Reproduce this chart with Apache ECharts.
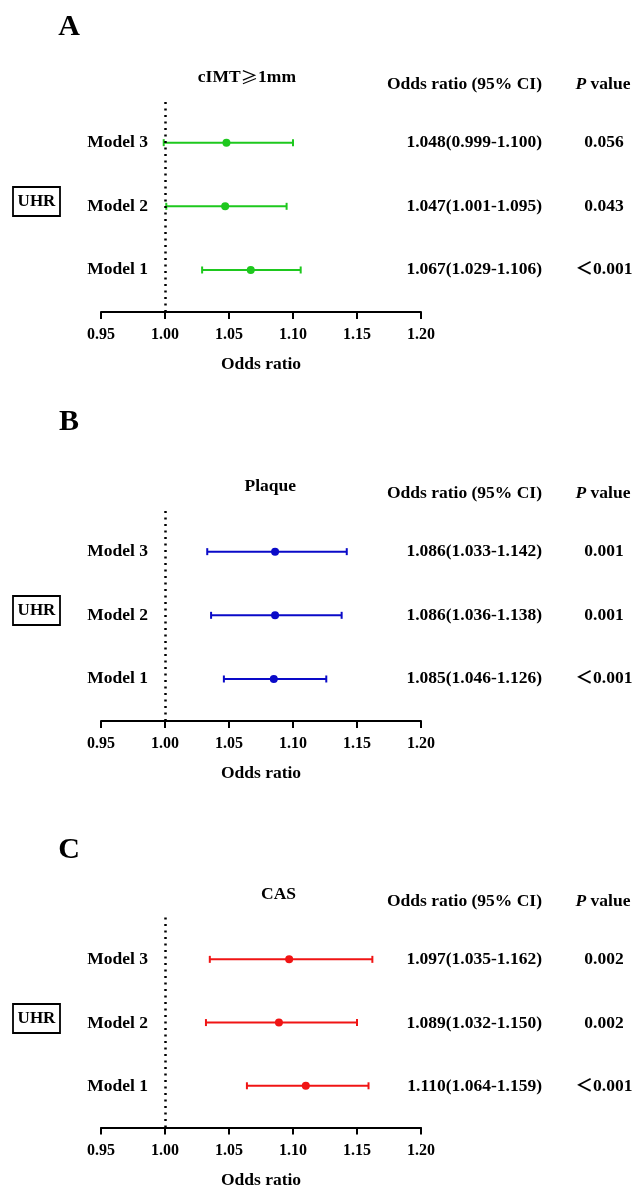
<!DOCTYPE html>
<html><head><meta charset="utf-8">
<script src="https://cdn.jsdelivr.net/npm/echarts@6/dist/echarts.min.js"></script>
<style>html,body{margin:0;padding:0;background:#fff}#c{width:634px;height:1190px}</style>
</head><body><div id="c"></div>
<script>
// ---------- data ----------
const panelLetters = ['A', 'B', 'C'];
const outcomes = ['cIMT≥1mm', 'Plaque', 'CAS'];
const models = ['Model 1', 'Model 2', 'Model 3'];          // bottom to top
const exposure = 'UHR';
const orHeader = 'Odds ratio (95% CI)';
const pHeader = 'P value';
const xAxisTitle = 'Odds ratio';
const xTickLabels = ['0.95', '1.00', '1.05', '1.10', '1.15', '1.20'];
const refValue = 1.00;

const orA = [1.067, 1.047, 1.048];
const loA = [1.029, 1.001, 0.999];
const hiA = [1.106, 1.095, 1.100];
const pA  = ['＜0.001', '0.043', '0.056'];

const orB = [1.085, 1.086, 1.086];
const loB = [1.046, 1.036, 1.033];
const hiB = [1.126, 1.138, 1.142];
const pB  = ['＜0.001', '0.001', '0.001'];

const orC = [1.110, 1.089, 1.097];
const loC = [1.064, 1.032, 1.035];
const hiC = [1.159, 1.150, 1.162];
const pC  = ['＜0.001', '0.002', '0.002'];

const colors = ['#1ec81e', '#0a0ac8', '#f01414'];

// ---------- layout ----------
const panels = [
  {or: orA, lo: loA, hi: hiA, p: pA},
  {or: orB, lo: loB, hi: hiB, p: pB},
  {or: orC, lo: loC, hi: hiC, p: pC}
];
const panelTop = [100, 509, 917];
const letterY = [27, 422, 850];
const gridH = 212;
const yMin = 0.34, yMax = 3.67;
const FONT = "'Liberation Serif', 'Times New Roman', 'Noto Sans CJK SC', serif";

const fmtCI = (o, l, h) => o.toFixed(3) + '(' + l.toFixed(3) + '-' + h.toFixed(3) + ')';
const tickLabel = v => xTickLabels.find(s => Math.abs(parseFloat(s) - v) < 1e-6) || '';

const grid = [], xAxis = [], yAxis = [], series = [], graphic = [];

panels.forEach((pd, k) => {
  const top = panelTop[k];
  const col = colors[k];
  const gi = grid.length;
  // main plot grid
  grid.push({left: 101, top: top, width: 320, height: gridH});
  xAxis.push({
    gridIndex: gi, type: 'value', min: 0.95, max: 1.20, interval: 0.05,
    name: xAxisTitle, nameLocation: 'middle', nameGap: 44,
    nameTextStyle: {fontFamily: FONT, fontWeight: 'bold', fontSize: 17.5, color: '#000'},
    axisLine: {show: true, lineStyle: {color: '#000', width: 2}},
    axisTick: {show: true, length: 7, lineStyle: {color: '#000', width: 2}},
    axisLabel: {margin: 15, fontFamily: FONT, fontWeight: 'bold', fontSize: 16, color: '#000', formatter: tickLabel},
    splitLine: {show: false}
  });
  yAxis.push({gridIndex: gi, type: 'value', min: yMin, max: yMax, show: false});
  const rows = models.map((m, i) => i + 1);
  series.push({
    type: 'custom', xAxisIndex: gi, yAxisIndex: gi, silent: true,
    encode: {x: [0, 1], y: 2},
    data: rows.map((r, i) => [pd.lo[i], pd.hi[i], r]),
    renderItem: (params, api) => {
      const a = api.coord([api.value(0), api.value(2)]);
      const b = api.coord([api.value(1), api.value(2)]);
      const h = 3.5, st = {stroke: col, lineWidth: 2};
      return {type: 'group', children: [
        {type: 'line', shape: {x1: a[0], y1: a[1], x2: b[0], y2: b[1]}, style: st},
        {type: 'line', shape: {x1: a[0], y1: a[1] - h, x2: a[0], y2: a[1] + h}, style: st},
        {type: 'line', shape: {x1: b[0], y1: b[1] - h, x2: b[0], y2: b[1] + h}, style: st}
      ]};
    },
    z: 3
  });
  series.push({
    type: 'scatter', xAxisIndex: gi, yAxisIndex: gi, silent: true,
    data: rows.map((r, i) => [pd.or[i], r]),
    symbolSize: 8, itemStyle: {color: col, opacity: 1}, z: 4,
    markLine: {
      silent: true, symbol: ['none', 'none'], label: {show: false},
      lineStyle: {color: '#000', type: [2, 4.5], width: 2.5},
      data: [{xAxis: refValue}]
    }
  });

  // text columns
  const textCols = [
    {left: 40, width: 108, x: 1, align: 'right', texts: models},
    {left: 385, width: 157, x: 1, align: 'right', texts: rows.map((r, i) => fmtCI(pd.or[i], pd.lo[i], pd.hi[i]))},
    {left: 574, width: 60, x: 0.5, align: 'center', texts: pd.p}
  ];
  textCols.forEach(tc => {
    const g = grid.length;
    grid.push({left: tc.left, top: top, width: tc.width, height: gridH});
    xAxis.push({gridIndex: g, type: 'value', min: 0, max: 1, show: false});
    yAxis.push({gridIndex: g, type: 'value', min: yMin, max: yMax, show: false});
    series.push({
      type: 'custom', xAxisIndex: g, yAxisIndex: g, silent: true,
      encode: {x: 0, y: 1},
      data: rows.map((r, i) => [tc.x, r, i]),
      renderItem: (params, api) => {
        const p = api.coord([api.value(0), api.value(1)]);
        return {type: 'text', x: p[0], y: p[1], style: {
          text: tc.texts[api.value(2)], fill: '#000',
          font: "bold 17.5px " + FONT, align: tc.align, verticalAlign: 'middle'}};
      }
    });
  });

  // annotations
  graphic.push({type: 'text', x: 69, y: letterY[k], style: {
    text: panelLetters[k], fontFamily: FONT, fontWeight: 'bold', fontSize: 30, fill: '#000',
    align: 'center', verticalAlign: 'middle'}});
  graphic.push({type: 'text', x: 296, y: top - 23, style: {
    text: outcomes[k].replace('≥', '{s|≥}'), fontFamily: FONT, fontWeight: 'bold', fontSize: 17.5, fill: '#000',
    align: 'right', verticalAlign: 'middle',
    rich: {s: {fontFamily: "'Noto Sans CJK SC', sans-serif", fontWeight: 'normal', fontSize: 17.5, fill: '#000'}}}});
  graphic.push({type: 'text', x: 542, y: top - 16, style: {
    text: orHeader, fontFamily: FONT, fontWeight: 'bold', fontSize: 17.5, fill: '#000',
    align: 'right', verticalAlign: 'middle'}});
  graphic.push({type: 'text', x: 603, y: top - 16, style: {
    text: pHeader.replace(/^P/, '{i|P}'), fontFamily: FONT, fontWeight: 'bold', fontSize: 17.5, fill: '#000',
    align: 'center', verticalAlign: 'middle',
    rich: {i: {fontFamily: FONT, fontWeight: 'bold', fontStyle: 'italic', fontSize: 17.5, fill: '#000'}}}});
  graphic.push({type: 'rect', shape: {x: 13, y: top + 87, width: 47, height: 29},
    style: {fill: 'none', stroke: '#000', lineWidth: 1.8}});
  graphic.push({type: 'text', x: 36.5, y: top + 101.5, style: {
    text: exposure, fontFamily: FONT, fontWeight: 'bold', fontSize: 17, fill: '#000',
    align: 'center', verticalAlign: 'middle'}});
});

const chart = echarts.init(document.getElementById('c'), null, {renderer: 'canvas'});
chart.setOption({
  backgroundColor: '#fff',
  animation: false,
  grid, xAxis, yAxis, series, graphic
});
</script>
</body></html>
